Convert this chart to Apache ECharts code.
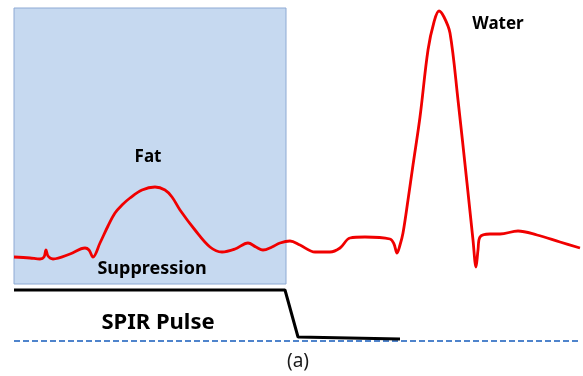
<!DOCTYPE html>
<html>
<head>
<meta charset="utf-8">
<script src="https://cdn.jsdelivr.net/npm/echarts@6/dist/echarts.min.js"></script>
<style>html,body{margin:0;padding:0;background:#fff}#c{width:583px;height:376px}</style>
</head>
<body>
<div id="c"></div>
<script>
// Spectrum (frequency units, amplitude units; baseline = 0)
const specX = [14, 30, 40, 44, 46, 48, 53, 70, 85, 89, 93, 100, 108, 115, 122, 130, 142, 155, 165, 172, 180, 195, 210, 222, 235, 248, 256, 263, 272, 280, 290, 300, 315, 330, 340, 350, 365, 390, 394, 397, 400, 403, 408, 413, 420, 428, 434, 439, 444, 450, 458, 467, 473, 476, 478, 480, 490, 500, 518, 537, 560, 580];
const specY = [84, 83, 82, 84, 91, 85, 82, 87, 93, 91, 84, 98, 115, 128, 136, 143, 151, 154, 151, 144, 131, 111, 94, 89, 92, 98, 94, 91, 94, 98, 100, 96, 89, 89, 93, 103, 104, 102, 97, 88, 96, 108, 141, 176, 224, 291, 319, 330, 324, 308, 241, 158, 101, 74, 91, 104, 107, 107, 110, 106, 99, 93];
// SPIR pulse profile
const pulseX = [14, 285, 298, 400];
const pulseY = [51, 51, 4, 2];
// Baseline
const baseX = [14, 578];
const baseY = [0, 0];
// Suppression band [x0, x1], [y0, y1]
const bandX = [14, 286];
const bandY = [57, 333];
// Annotations
const labelNames = ['Water', 'Fat', 'Suppression', 'SPIR Pulse', '(a)'];
const labelX = [498, 148, 152, 158, 298];
const labelY = [317, 184, 72, 18, -21];

const zip = (xs, ys) => xs.map((x, i) => [x, ys[i]]);
const chart = echarts.init(document.getElementById('c'), null, {renderer: 'canvas'});
const font = '"Noto Sans", "Open Sans", sans-serif';
const labelStyles = [
  {fontSize: 17, fontWeight: 'bold'},
  {fontSize: 17, fontWeight: 'bold'},
  {fontSize: 18, fontWeight: 'bold'},
  {fontSize: 22, fontWeight: 'bold'},
  {fontSize: 19, fontWeight: 'normal', color: '#1a1a1a'}
];
chart.setOption({
  animation: false,
  grid: {left: 0, right: 0, top: 0, bottom: 0},
  xAxis: {type: 'value', min: 0, max: 583, show: false},
  yAxis: {type: 'value', min: -35, max: 341, show: false},
  series: [
    {
      type: 'line', data: zip(baseX, baseY), symbol: 'none', z: 1,
      lineStyle: {color: '#4f84cc', width: 2, type: [6, 3]},
      markArea: {
        silent: true,
        itemStyle: {color: 'rgb(198,217,240)', borderColor: '#8eaad4', borderWidth: 1},
        data: [[{xAxis: bandX[0], yAxis: bandY[0]}, {xAxis: bandX[1], yAxis: bandY[1]}]]
      }
    },
    {
      type: 'line', data: zip(pulseX, pulseY), symbol: 'none', z: 3,
      lineStyle: {color: '#000', width: 3}
    },
    {
      type: 'line', data: zip(specX, specY), symbol: 'none', smooth: 0.35, z: 4,
      lineStyle: {color: '#f00000', width: 2.8}
    },
    {
      type: 'scatter', symbolSize: 0, z: 5, silent: true,
      itemStyle: {opacity: 1},
      data: labelNames.map((n, i) => ({
        value: [labelX[i], labelY[i]], name: n,
        label: Object.assign({show: true, position: 'inside', formatter: n, fontFamily: font, color: '#000', opacity: 1}, labelStyles[i])
      }))
    }
  ]
});
</script>
</body>
</html>
